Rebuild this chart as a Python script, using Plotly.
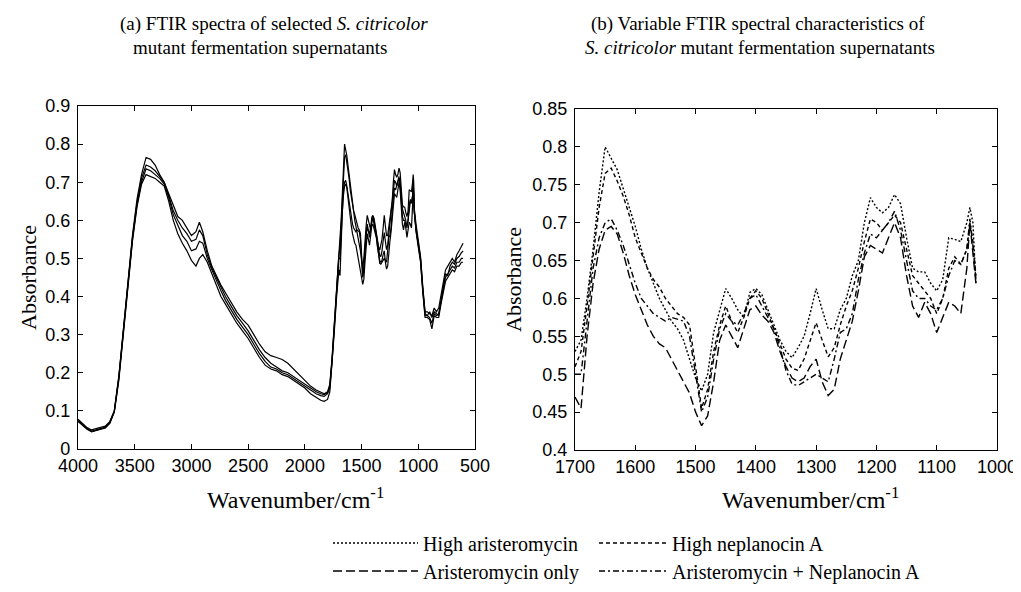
import plotly.graph_objects as go

# ---------------- data ----------------
# high-wavenumber part (panel a only)
wn_hi = [4000, 3960, 3920, 3880, 3840, 3800, 3760, 3720, 3680, 3640, 3600, 3560, 3520, 3480, 3440,
         3400, 3360, 3320, 3280, 3240, 3200, 3160, 3120, 3080, 3040, 3000,
         2960, 2930, 2900, 2860, 2820, 2780, 2740, 2700,
         2650, 2600, 2550, 2500, 2450, 2400, 2350, 2300, 2250, 2200, 2150, 2100, 2050, 2000, 1950, 1900,
         1860, 1830, 1800, 1780, 1760, 1740, 1720, 1710]
ha_hi = [.078, .066, .056, .05, .054, .056, .06, .072, .10, .19, .31, .43, .56, .655, .72,
         .765, .76, .745, .72, .70, .67, .635, .61, .60, .58, .56,
         .57, .595, .57, .52, .48, .455, .43, .41,
         .385, .36, .34, .325, .30, .275, .255, .245, .24, .235, .225, .21, .195, .18, .165, .155,
         .148, .145, .15, .17, .24, .33, .43, .48]
hn_hi = [.075, .064, .054, .047, .051, .054, .057, .07, .10, .19, .31, .425, .555, .645, .71,
         .745, .74, .73, .715, .70, .665, .625, .60, .58, .565, .545,
         .55, .575, .56, .51, .475, .45, .425, .40,
         .375, .35, .33, .31, .285, .26, .24, .225, .215, .205, .20, .19, .18, .17, .16, .15,
         .145, .143, .148, .165, .235, .33, .42, .47]
an_hi = [.074, .063, .053, .046, .05, .053, .056, .068, .098, .185, .305, .42, .55, .64, .70,
         .735, .73, .72, .71, .695, .66, .615, .585, .56, .545, .52,
         .525, .545, .54, .50, .47, .44, .415, .39,
         .365, .34, .32, .30, .275, .25, .23, .215, .21, .20, .195, .185, .175, .165, .155, .145,
         .14, .138, .145, .16, .23, .32, .41, .46]
ao_hi = [.072, .062, .052, .045, .049, .052, .055, .067, .097, .18, .30, .415, .545, .635, .695,
         .72, .715, .71, .70, .69, .65, .60, .565, .54, .52, .495,
         .48, .50, .51, .49, .46, .43, .40, .38,
         .355, .33, .31, .29, .265, .24, .22, .21, .205, .195, .19, .18, .17, .16, .145, .135,
         .128, .125, .13, .15, .22, .31, .40, .44]

# fingerprint region (panels a and b)
wn_b = [1700, 1690, 1680, 1670, 1660, 1650, 1640, 1630, 1620, 1610,
        1600, 1590, 1580, 1570, 1560, 1550, 1540, 1530, 1520, 1510,
        1500, 1490, 1480, 1470, 1460, 1450, 1440, 1430, 1420, 1410,
        1400, 1390, 1380, 1370, 1360, 1350, 1340, 1330, 1320, 1310,
        1300, 1290, 1280, 1270, 1260, 1250, 1240, 1230, 1220, 1210,
        1200, 1190, 1180, 1170, 1160, 1150, 1140, 1130, 1120, 1110,
        1100, 1090, 1080, 1070, 1060, 1050, 1045, 1040, 1035]
ha_b = [.53, .545, .60, .665, .74, .80, .785, .77, .745, .72,
        .695, .665, .64, .62, .60, .585, .57, .56, .545, .52,
        .495, .478, .50, .555, .585, .613, .60, .585, .575, .608,
        .613, .605, .585, .565, .545, .53, .522, .535, .55, .58,
        .613, .585, .56, .56, .585, .60, .63, .65, .70, .733,
        .72, .713, .72, .737, .725, .68, .64, .635, .635, .62,
        .61, .625, .68, .678, .675, .70, .72, .70, .62]
hn_b = [.51, .53, .59, .655, .72, .765, .772, .755, .735, .71,
        .68, .66, .64, .625, .615, .60, .59, .58, .575, .565,
        .51, .455, .48, .53, .565, .59, .57, .555, .575, .60,
        .61, .60, .58, .56, .54, .52, .508, .505, .52, .545,
        .568, .545, .523, .535, .565, .59, .61, .64, .675, .705,
        .70, .69, .70, .71, .70, .665, .63, .62, .61, .60,
        .58, .60, .64, .655, .645, .665, .70, .675, .63]
ao_b = [.47, .455, .55, .62, .665, .69, .695, .685, .66, .63,
        .605, .585, .565, .55, .54, .535, .52, .505, .49, .475,
        .45, .432, .445, .49, .545, .565, .55, .535, .56, .585,
        .59, .578, .57, .555, .53, .51, .495, .49, .495, .51,
        .52, .49, .472, .48, .52, .545, .57, .61, .655, .67,
        .665, .66, .68, .70, .68, .63, .59, .575, .595, .58,
        .555, .575, .595, .59, .58, .64, .70, .66, .62]
an_b = [.50, .50, .57, .64, .68, .70, .705, .69, .67, .645,
        .62, .60, .59, .58, .575, .57, .575, .572, .57, .55,
        .50, .45, .47, .52, .56, .58, .57, .565, .58, .60,
        .605, .59, .575, .56, .535, .505, .487, .485, .49, .495,
        .50, .495, .49, .52, .555, .56, .58, .625, .66, .685,
        .68, .69, .70, .715, .69, .65, .61, .60, .60, .59,
        .585, .60, .63, .65, .645, .665, .705, .67, .625]

# low-wavenumber tail (panel a only)
wn_lo = [1020, 1000, 980, 960, 940, 920, 900, 880, 860, 840, 820, 800,
         780, 760, 740, 720, 700, 680, 660, 640, 620, 605]
ha_lo = [.58, .545, .50, .42, .36, .36, .355, .35, .37, .36, .37, .40,
         .44, .47, .48, .49, .50, .49, .51, .52, .53, .54]
hn_lo = [.59, .55, .505, .425, .355, .35, .36, .345, .36, .355, .35, .39,
         .43, .46, .455, .48, .49, .485, .50, .505, .515, .52]
an_lo = [.57, .535, .49, .41, .345, .345, .34, .315, .35, .345, .345, .38,
         .41, .44, .45, .46, .47, .465, .48, .48, .49, .49]
ao_lo = [.575, .54, .495, .415, .35, .35, .345, .33, .355, .35, .355, .385,
         .42, .45, .46, .47, .48, .475, .49, .49, .50, .50]

series_names = ["High aristeromycin", "Aristeromycin only",
                "High neplanocin A", "Aristeromycin + Neplanocin A"]
hi_vals = [ha_hi, ao_hi, hn_hi, an_hi]
b_vals = [ha_b, ao_b, hn_b, an_b]
lo_vals = [ha_lo, ao_lo, hn_lo, an_lo]
dashes = ["2px,2px", "9px,4px", "4px,3px", "6px,3px,2px,3px"]

xticks_a = [4000, 3500, 3000, 2500, 2000, 1500, 1000, 500]
xticks_b = [1700, 1600, 1500, 1400, 1300, 1200, 1100, 1000]

# ---------------- figure ----------------
W, H = 1021, 592
def px(x):
    return x / W
def py(y):
    return 1 - y / H

fig = go.Figure()
wn_full = wn_hi + wn_b + wn_lo
for hv, bv, lv in zip(hi_vals, b_vals, lo_vals):
    fig.add_trace(go.Scatter(x=wn_full, y=hv + bv + lv, mode="lines",
                             line=dict(color="black", width=1.2),
                             showlegend=False, xaxis="x", yaxis="y", hoverinfo="skip"))

legends = ["legend", "legend2", "legend3", "legend4"]
for name, bv, dsh, lg in zip(series_names, b_vals, dashes, legends):
    fig.add_trace(go.Scatter(x=wn_b, y=bv, mode="lines", name=name,
                             line=dict(color="black", width=1.4, dash=dsh),
                             xaxis="x2", yaxis="y2", legend=lg, showlegend=True))

tickfont = dict(family="Liberation Sans, Arial, sans-serif", size=18, color="black")
axis_common = dict(showline=True, linecolor="black", linewidth=1.2, mirror="ticks",
                   ticks="inside", ticklen=5, tickcolor="black", tickwidth=1,
                   showgrid=False, zeroline=False, tickfont=tickfont, automargin=False)

fig.update_layout(
    template="none",
    width=W, height=H,
    margin=dict(l=0, r=0, t=0, b=0, autoexpand=False),
    paper_bgcolor="white", plot_bgcolor="white",
    xaxis=dict(domain=[px(70), px(467)], range=[4000, 500], tickvals=xticks_a,
               anchor="y", **axis_common),
    yaxis=dict(domain=[py(441), py(98)], range=[0, 0.9], dtick=0.1,
               anchor="x", ticklabelstandoff=3, **axis_common),
    xaxis2=dict(domain=[px(567), px(989)], range=[1700, 1000], tickvals=xticks_b,
                anchor="y2", **axis_common),
    yaxis2=dict(domain=[py(442), py(101)], range=[0.4, 0.85], dtick=0.05,
                anchor="x2", ticklabelstandoff=3, **axis_common),
)

serif = "Liberation Serif, Times New Roman, serif"
legfont = dict(family=serif, size=20, color="black")
leg_pos = [(320, 535, 85), (320, 563, 85), (586, 535, 68), (586, 563, 68)]
for lg, (lx, ly, iw) in zip(legends, leg_pos):
    fig.update_layout({lg: dict(x=px(lx), y=py(ly), xanchor="left", yanchor="middle",
                                orientation="v", font=legfont, itemwidth=iw,
                                bgcolor="rgba(0,0,0,0)", borderwidth=0)})

ann = []
def text(x, y, s, size, angle=0):
    ann.append(dict(x=px(x), y=py(y), xref="paper", yref="paper", text=s, showarrow=False,
                    xanchor="center", yanchor="middle", textangle=angle,
                    font=dict(family=serif, size=size, color="black")))

text(266, 16, "(a) FTIR spectra of selected <i>S. citricolor</i>", 19)
text(252, 39, "mutant fermentation supernatants", 19)
text(750, 16, "(b) Variable FTIR spectral characteristics of", 19)
text(752, 39, "<i>S. citricolor</i> mutant fermentation supernatants", 19)
text(287, 490, "Wavenumber/cm<sup>-1</sup>", 24)
text(802, 490, "Wavenumber/cm<sup>-1</sup>", 24)
text(20, 270, "Absorbance", 22, -90)
text(505, 272, "Absorbance", 22, -90)
fig.update_layout(annotations=ann)

fig.write_html("out.html")
